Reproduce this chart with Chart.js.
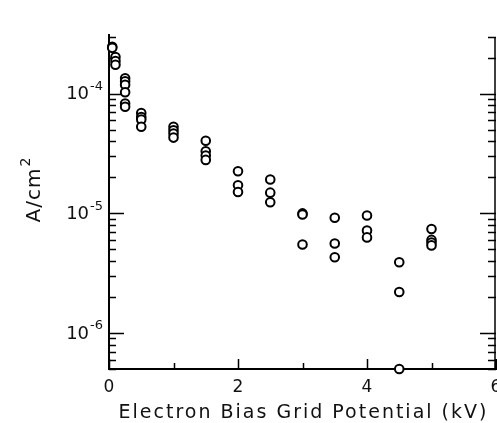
<!DOCTYPE html>
<html>
<head>
<meta charset="utf-8">
<script src="https://cdn.jsdelivr.net/npm/chart.js@4"></script>
<style>
  html, body { margin: 0; padding: 0; background: #fff; }
  #wrap { width: 497px; height: 423px; }
</style>
</head>
<body>
<div id="wrap"><canvas id="chart" width="497" height="423"></canvas></div>
<script>
// Measured points: grid potential (kV) and current density (A/cm^2)
const potentials = [
    0.05, 0.05, 0.1, 0.1, 0.1,
    0.25, 0.25, 0.25, 0.25, 0.25, 0.25,
    0.5, 0.5, 0.5, 0.5,
    1.0, 1.0, 1.0, 1.0,
    1.5, 1.5, 1.5, 1.5,
    2.0, 2.0, 2.0,
    2.5, 2.5, 2.5,
    3.0, 3.0, 3.0,
    3.5, 3.5, 3.5,
    4.0, 4.0, 4.0,
    4.5, 4.5, 4.5,
    5.0, 5.0, 5.0, 5.0
];
const currentDensity = [
    2.47e-4, 2.42e-4, 2.03e-4, 1.88e-4, 1.75e-4,
    1.35e-4, 1.27e-4, 1.19e-4, 1.03e-4, 8.3e-5, 7.8e-5,
    6.9e-5, 6.4e-5, 6.1e-5, 5.3e-5,
    5.3e-5, 4.95e-5, 4.65e-5, 4.3e-5,
    4.05e-5, 3.3e-5, 3.05e-5, 2.8e-5,
    2.25e-5, 1.72e-5, 1.51e-5,
    1.92e-5, 1.49e-5, 1.24e-5,
    1.0e-5, 9.8e-6, 5.5e-6,
    9.2e-6, 5.6e-6, 4.3e-6,
    9.6e-6, 7.2e-6, 6.3e-6,
    3.9e-6, 2.2e-6, 5.0e-7,
    7.4e-6, 6.0e-6, 5.7e-6, 5.4e-6
];

// Axis ticks and titles
const xMajorTicks = [0, 2, 4, 6];
const xMinorTicks = [1, 3, 5];
const yDecades = [1e-6, 1e-5, 1e-4];
const yTickExponents = ['-6', '-5', '-4'];
const xTitle = 'Electron Bias Grid Potential (kV)';
const yTitle = 'A/cm';
const yTitleSup = '2';

const FONT = "'DejaVu Sans', sans-serif";
const INK = '#111';

// inward ticks, right axis line, tick labels and axis titles
const frameTicks = {
    id: 'frameTicks',
    beforeDatasetsDraw(chart) {
        const ctx = chart.ctx;
        const xs = chart.scales.x;
        const ys = chart.scales.y;
        const area = chart.chartArea;
        ctx.save();
        ctx.strokeStyle = '#000';
        ctx.lineWidth = 1.5;
        ctx.beginPath();
        ctx.moveTo(area.right - 1, area.top + 3);
        ctx.lineTo(area.right - 1, area.bottom);
        for (let d = -7; d <= -3; d++) {
            for (let m = 1; m <= 9; m++) {
                const v = m * Math.pow(10, d);
                if (v < ys.min || v > ys.max) continue;
                const py = Math.round(ys.getPixelForValue(v)) + 0.5;
                const len = m === 1 ? 15 : 7;
                ctx.moveTo(area.left, py);
                ctx.lineTo(area.left + len, py);
                ctx.moveTo(area.right, py);
                ctx.lineTo(area.right - len - 1, py);
            }
        }
        xMajorTicks.forEach(v => {
            const px = Math.round(xs.getPixelForValue(v)) + 0.5;
            ctx.moveTo(px, area.bottom);
            ctx.lineTo(px, area.bottom - 10);
        });
        xMinorTicks.forEach(v => {
            const px = Math.round(xs.getPixelForValue(v)) + 0.5;
            ctx.moveTo(px, area.bottom);
            ctx.lineTo(px, area.bottom - 6);
        });
        ctx.stroke();

        ctx.fillStyle = INK;
        ctx.textBaseline = 'middle';
        ctx.textAlign = 'right';
        yDecades.forEach((v, i) => {
            const py = ys.getPixelForValue(v);
            ctx.font = '13px ' + FONT;
            const expW = ctx.measureText(yTickExponents[i]).width;
            ctx.fillText(yTickExponents[i], area.left - 6, py - 7);
            ctx.font = '18px ' + FONT;
            ctx.fillText('10', area.left - 7 - expW, py + 1);
        });

        ctx.textAlign = 'center';
        ctx.font = '17px ' + FONT;
        xMajorTicks.forEach(v => {
            ctx.fillText(String(v), xs.getPixelForValue(v), area.bottom + 19);
        });

        // x title, letter spaced like the original
        ctx.font = '19px ' + FONT;
        ctx.letterSpacing = '2px';
        ctx.textBaseline = 'alphabetic';
        ctx.fillText(xTitle, (area.left + area.right) / 2 + 1, 418);
        ctx.letterSpacing = '0px';

        // y title, rotated
        ctx.translate(40, 190);
        ctx.rotate(-Math.PI / 2);
        ctx.font = '20px ' + FONT;
        ctx.letterSpacing = '1px';
        const w = ctx.measureText(yTitle).width;
        ctx.font = '14px ' + FONT;
        const sw = ctx.measureText(yTitleSup).width;
        const x0 = -(w + sw) / 2;
        ctx.textAlign = 'left';
        ctx.font = '20px ' + FONT;
        ctx.fillText(yTitle, x0, 0);
        ctx.font = '14px ' + FONT;
        ctx.fillText(yTitleSup, x0 + w + 1, -10);
        ctx.restore();
    }
};

const ctx = document.getElementById('chart').getContext('2d');
new Chart(ctx, {
    type: 'scatter',
    data: {
        datasets: [{
            data: potentials.map((p, i) => ({ x: p, y: currentDensity[i] })),
            pointStyle: 'circle',
            pointRadius: 4.3,
            pointHoverRadius: 4.3,
            borderColor: '#000',
            backgroundColor: '#fff',
            borderWidth: 2,
            clip: false
        }]
    },
    options: {
        responsive: false,
        animation: false,
        events: [],
        layout: { autoPadding: false, padding: { top: 35, right: 1, left: 0, bottom: 0 } },
        plugins: {
            legend: { display: false },
            tooltip: { enabled: false }
        },
        scales: {
            x: {
                type: 'linear',
                min: 0,
                max: 6,
                afterFit(scale) {
                    scale.height = 54;
                },
                grid: { display: false, drawTicks: false },
                border: { display: true, color: '#000', width: 2 },
                ticks: { display: false }
            },
            y: {
                type: 'logarithmic',
                min: 5.0e-7,
                max: 3.1e-4,
                afterFit(scale) {
                    scale.width = 109;
                },
                grid: { display: false, drawTicks: false },
                border: { display: true, color: '#000', width: 2 },
                ticks: { display: false }
            }
        }
    },
    plugins: [frameTicks]
});
</script>
</body>
</html>
